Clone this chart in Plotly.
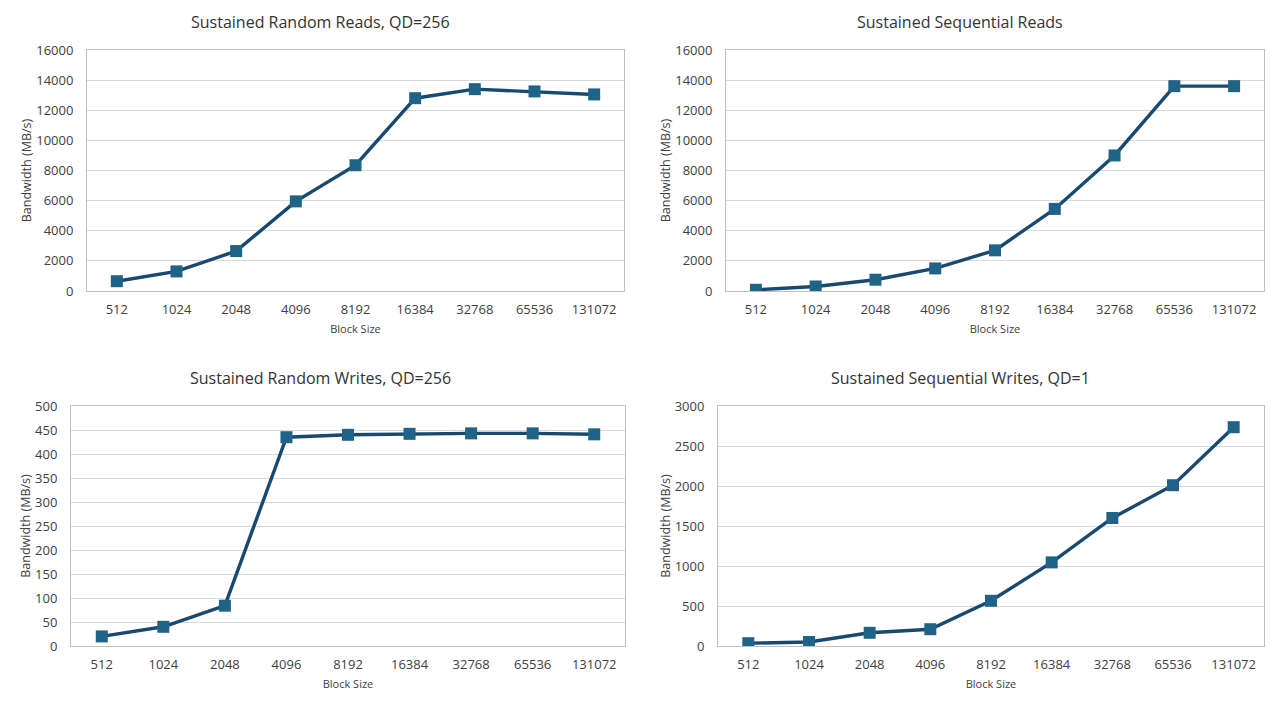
import plotly.graph_objects as go

block_sizes = ["512", "1024", "2048", "4096", "8192", "16384", "32768", "65536", "131072"]
random_reads = [650, 1300, 2650, 5950, 8350, 12800, 13400, 13250, 13050]
sequential_reads = [80, 300, 750, 1500, 2700, 5450, 9000, 13600, 13600]
random_writes = [20, 40, 84, 435, 440, 442, 443, 443, 441]
sequential_writes = [35, 50, 165, 210, 565, 1045, 1600, 2010, 2735]

titles = ["Sustained Random Reads, QD=256", "Sustained Sequential Reads",
          "Sustained Random Writes, QD=256", "Sustained Sequential Writes, QD=1"]
y_ranges = [(0, 16000, 2000), (0, 16000, 2000), (0, 500, 50), (0, 3000, 500)]
series = [random_reads, sequential_reads, random_writes, sequential_writes]

W, H = 1280, 711
# plot-area pixel boxes (left, right, top, bottom)
boxes = [(87, 624, 50, 291), (726, 1264, 50, 291), (71, 625, 406, 646), (718, 1264, 406, 646)]
title_pos = [(320, 22), (960, 22), (320, 378), (960, 378)]

FONT = "Open Sans"
LINE = "#184a70"
MARK = "#1f6386"
GRID = "#d9d9d9"
TXT = "#404040"

fig = go.Figure()
layout = dict(width=W, height=H, margin=dict(l=0, r=0, t=0, b=0, pad=0, autoexpand=False),
              paper_bgcolor="white", plot_bgcolor="white", showlegend=False,
              font=dict(family=FONT, color=TXT))
annotations = []
for i, (vals, (l, r, t, b), (y0, y1, dt)) in enumerate(zip(series, boxes, y_ranges)):
    xa = "xaxis" if i == 0 else f"xaxis{i+1}"
    ya = "yaxis" if i == 0 else f"yaxis{i+1}"
    xr = "x" if i == 0 else f"x{i+1}"
    yr = "y" if i == 0 else f"y{i+1}"
    fig.add_trace(go.Scatter(x=block_sizes, y=vals, xaxis=xr, yaxis=yr, mode="lines+markers",
                             line=dict(color=LINE, width=3.4),
                             marker=dict(symbol="square", size=12, color=MARK,
                                         line=dict(color=MARK, width=0))))
    layout[xa] = dict(domain=[l / W, r / W], anchor=yr, type="category",
                      range=[-0.5, len(block_sizes) - 0.5], automargin=False,
                      showline=True, mirror=True, linecolor="#bfbfbf", linewidth=1,
                      showgrid=False, ticks="", tickfont=dict(size=13, color=TXT),
                      ticklabelstandoff=6,
                      title=dict(text="Block Size", font=dict(size=11, color=TXT), standoff=8))
    layout[ya] = dict(domain=[1 - b / H, 1 - t / H], anchor=xr, range=[y0, y1], dtick=dt,
                      tickformat="d", automargin=False,
                      showline=True, mirror=True, linecolor="#bfbfbf", linewidth=1,
                      showgrid=True, gridcolor=GRID, gridwidth=1, zeroline=False,
                      ticks="", tickfont=dict(size=13, color=TXT), ticklabelstandoff=10,
                      title=dict(text="Bandwidth (MB/s)", font=dict(size=12.5, color=TXT), standoff=1))
    tx, ty = title_pos[i]
    annotations.append(dict(text=titles[i], x=tx / W, y=1 - ty / H, xref="paper", yref="paper",
                            xanchor="center", yanchor="middle", showarrow=False,
                            font=dict(size=16, color="#333333", family=FONT)))
layout["annotations"] = annotations
fig.update_layout(**layout)

post = ("var gd=document.getElementById('{plot_id}');"
        "var p=gd.parentElement;p.style.position='fixed';p.style.top='0px';p.style.left='0px';"
        "p.style.margin='0px';document.body.style.margin='0px';"
        "document.documentElement.style.overflow='hidden';document.body.style.overflow='hidden';")
fig.write_html("out.html", config={"displayModeBar": False}, post_script=post)
